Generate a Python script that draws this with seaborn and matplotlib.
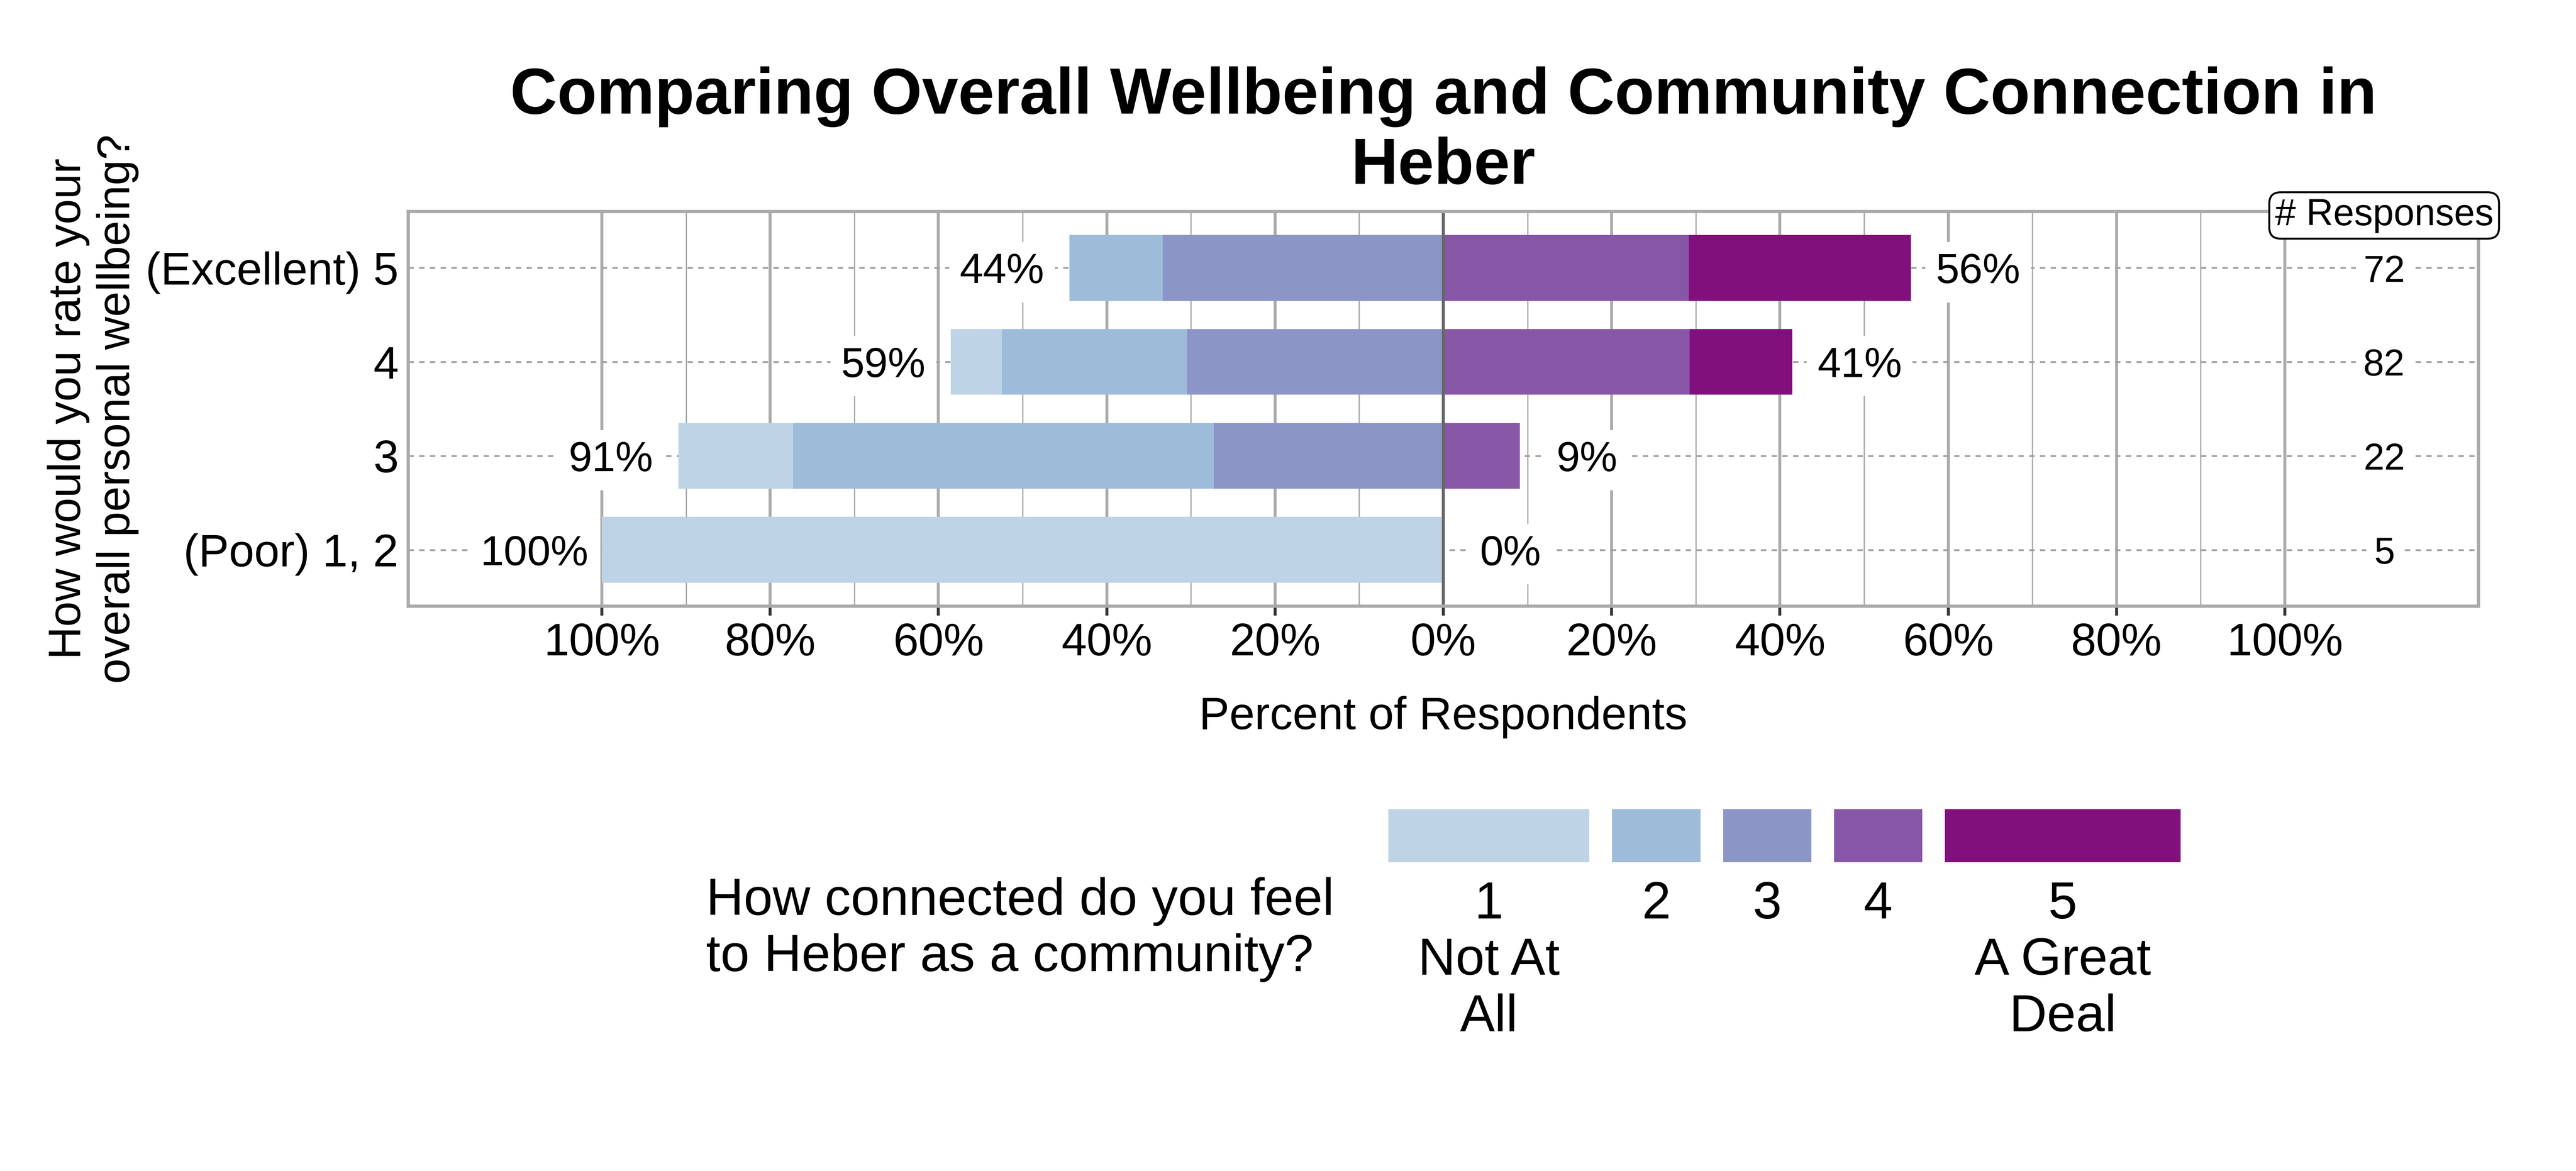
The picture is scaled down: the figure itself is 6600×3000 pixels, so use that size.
import numpy as np
import matplotlib
matplotlib.use("Agg")
import matplotlib.pyplot as plt
from matplotlib.patches import Rectangle
from matplotlib.ticker import FuncFormatter
import seaborn as sns

# data (counts per connection level, per wellbeing rating)
rating_labels = ["(Excellent) 5", "4", "3", "(Poor) 1, 2"]
n_responses = [72, 82, 22, 5]
cnt_1 = [0, 5, 3, 5]
cnt_2 = [8, 18, 11, 0]
cnt_3 = [24, 25, 6, 0]
cnt_4 = [21, 24, 2, 0]
cnt_5 = [19, 10, 0, 0]

legend_labels = ["1\nNot At\nAll", "2", "3", "4", "5\nA Great\nDeal"]
# BuPu
colors = ["#bfd3e6", "#9ebcda", "#8c96c6", "#8856a7", "#810f7c"]

sns.set_style("white")
plt.rcParams["font.family"] = ["Liberation Sans", "DejaVu Sans"]
plt.rcParams.update({
    "text.color": "black",
    "axes.labelcolor": "black",
    "xtick.labelcolor": "black",
    "ytick.labelcolor": "black",
})

n = np.array(n_responses, dtype=float)
p1, p2, p3, p4, p5 = [np.array(c) / n * 100 for c in (cnt_1, cnt_2, cnt_3, cnt_4, cnt_5)]
left_tot = p1 + p2 + p3
right_tot = p4 + p5

W, H = 6600, 3000
fig = plt.figure(figsize=(11, 5), dpi=600)
ax = fig.add_axes([1046 / W, 1 - 1553 / H, (6350 - 1046) / W, (1553 - 542) / H])

# stacked diverging bars: draw cumulative lengths, longest first
stacks = [(-left_tot, colors[0]), (-(p2 + p3), colors[1]), (-p3, colors[2]),
          (right_tot, colors[4]), (p4, colors[3])]
for vals, col in stacks:
    sns.barplot(x=vals, y=rating_labels, order=rating_labels, orient="h",
                color=col, saturation=1, width=0.7, errorbar=None,
                linewidth=0, ax=ax, zorder=2)

ax.axvline(0, color="#666666", lw=0.9, zorder=2.5)

# percent totals each side
for i in range(len(rating_labels)):
    ax.text(-left_tot[i] - 8, i, f"{round(left_tot[i])}%", ha="center",
            va="center_baseline", fontsize=13, zorder=4,
            bbox=dict(boxstyle="square,pad=0.25", fc="white", ec="none"))
    ax.text(right_tot[i] + 8, i, f"{round(right_tot[i])}%", ha="center",
            va="center_baseline", fontsize=13, zorder=4,
            bbox=dict(boxstyle="square,pad=0.25", fc="white", ec="none"))
    ax.text(111.8, i, str(n_responses[i]), ha="center", va="center_baseline",
            fontsize=11.5, zorder=4,
            bbox=dict(boxstyle="square,pad=0.2", fc="white", ec="none"))

ax.text(111.8, -0.6, "# Responses", ha="center", va="center_baseline",
        fontsize=11.5, zorder=5, clip_on=False,
        bbox=dict(boxstyle="round,pad=0.15,rounding_size=0.3", fc="white",
                  ec="black", lw=0.6))

ax.set_xlim(-123, 123)
ax.set_ylim(3.6, -0.6)
ax.set_xticks(np.arange(-100, 101, 20))
ax.set_xticks([-90, -70, -50, -30, -10, 10, 30, 50, 70, 90], minor=True)
ax.xaxis.set_major_formatter(FuncFormatter(lambda v, _: f"{abs(v):.0f}%"))

ax.set_axisbelow(True)
ax.grid(axis="x", which="major", color="#aaaaaa", lw=0.9)
ax.grid(axis="x", which="minor", color="#aaaaaa", lw=0.4)
ax.grid(axis="y", which="major", color="#a0a0a0", lw=0.55, linestyle=(0, (3, 3)))

ax.tick_params(axis="x", which="major", length=2.9, width=0.9, color="#333333",
               labelcolor="black", labelsize=14, pad=2, bottom=True)
ax.tick_params(axis="x", which="minor", length=0)
ax.tick_params(axis="y", length=0, labelsize=14, pad=3, labelcolor="black")
for sp in ax.spines.values():
    sp.set_visible(True)
    sp.set_color("#aaaaaa")
    sp.set_linewidth(1.0)

ax.set_xlabel("Percent of Respondents", fontsize=14, labelpad=9.6, color="black")
ax.set_ylabel("How would you rate your\noverall personal wellbeing?", fontsize=14,
              labelpad=2, color="black")
ax.set_title("Comparing Overall Wellbeing and Community Connection in\nHeber",
             fontsize=20, fontweight="bold", pad=8.5, color="black")

# legend: title on the left, colour blocks with labels underneath
leg_title = fig.text(0, 0, "How connected do you feel\nto Heber as a community?",
                     fontsize=16, ha="left", va="top", color="black")
lab_texts = [fig.text(0, 0, lab, fontsize=16, ha="center", va="top", color="black")
             for lab in legend_labels]
renderer = fig.canvas.get_renderer()
title_w = leg_title.get_window_extent(renderer).width
col_w = [t.get_window_extent(renderer).width + 152 for t in lab_texts]
gap = 58
total = title_w + 139 + sum(col_w) + gap * (len(col_w) - 1)
pos = ax.get_position()
x = (pos.x0 + pos.x1) / 2 * W - total / 2
leg_title.set_position((x / W, 1 - 2247 / H))
x += title_w + 139
for t, w, col in zip(lab_texts, col_w, colors):
    fig.add_artist(Rectangle((x / W, 1 - 2209 / H), w / W, 136 / H,
                             transform=fig.transFigure, color=col, lw=0))
    t.set_position(((x + w / 2) / W, 1 - 2256 / H))
    x += w + gap

fig.savefig("out.png", dpi=600, facecolor="white")
